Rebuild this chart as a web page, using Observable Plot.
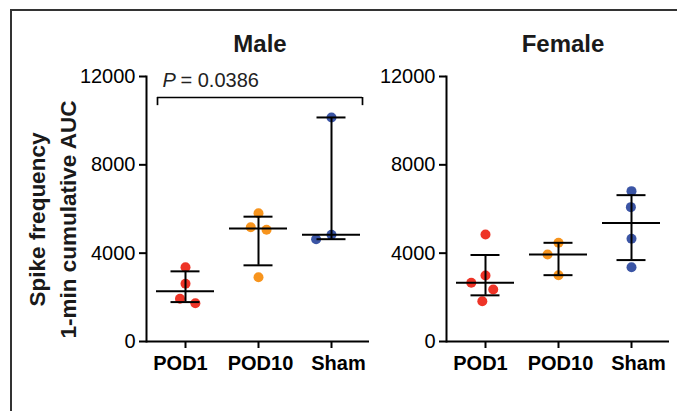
<!DOCTYPE html>
<html>
<head>
<meta charset="utf-8">
<script src="https://cdn.jsdelivr.net/npm/d3@7"></script>
<script src="https://cdn.jsdelivr.net/npm/@observablehq/plot@0.6"></script>
<style>
  body { margin: 0; background: #fff; }
  #chart { position: relative; width: 677px; height: 411px; overflow: hidden; background: #fff; }
  #border { position: absolute; left: 10px; top: 9px; width: 720px; height: 450px; border: 2px solid #333; box-sizing: border-box; }
  .layer { position: absolute; top: 0; }
</style>
</head>
<body>
<div id="chart"><div id="border"></div></div>
<script>
// ---- data ----
const groups = ["POD1", "POD10", "Sham"];
const colors = ["#ee3427", "#f7941d", "#3b55a5"];
const yTicks = [0, 4000, 8000, 12000];

const malePOD1  = [3365, 2613, 1933, 1735];
const malePOD10 = [5811, 5177, 5059, 2913];
const maleSham  = [10145, 4832, 4633];

const femalePOD1  = [4846, 2989, 2657, 2355, 1826];
const femalePOD10 = [4469, 3940, 3004];
const femaleSham  = [6808, 6084, 4650, 3366];

const comparisons = [{from: "POD1", to: "Sham", p: "0.0386", level: 11050, foot: 10680}];
const yLabel = "Spike frequency\n1-min cumulative AUC";

// ---- helpers ----
function quantile(values, p) { // (n+1)p method
  const s = values.slice().sort((a, b) => a - b), n = s.length;
  const h = (n + 1) * p;
  if (h <= 1) return s[0];
  if (h >= n) return s[n - 1];
  const lo = Math.floor(h);
  return s[lo - 1] + (h - lo) * (s[lo] - s[lo - 1]);
}
function rowsOf(sets) {
  return groups.flatMap((g, i) => sets[i].map(v => ({group: g, value: v})));
}
function summaryOf(sets) {
  return groups.map((g, i) => ({group: g, median: quantile(sets[i], 0.5), q1: quantile(sets[i], 0.25), q3: quantile(sets[i], 0.75)}));
}

const font = "'Liberation Sans', Arial, Helvetica, sans-serif";
const H = 411, MT = 76, MB = 70, MR = 8;
const labelShift = [-5, 2, 7]; // small horizontal nudges of the category labels, as in the original layout

function panel({title, sets, left, width, marginLeft, titleDx, withLabel, withBracket}) {
  const rows = rowsOf(sets);
  const summary = summaryOf(sets);
  const common = {width, height: H, marginLeft, marginRight: MR, marginTop: MT, marginBottom: MB,
    style: {background: "transparent", fontFamily: font, color: "black", overflow: "visible"}};

  const dots = Plot.plot({
    ...common,
    fx: {domain: groups, paddingInner: 0.1233, paddingOuter: 0.089, axis: null},
    y: {domain: [0, 12000], axis: null},
    color: {domain: groups, range: colors},
    marks: [
      Plot.dot(rows, Plot.dodgeX({anchor: "middle", padding: 6}, {fx: "group", y: "value", r: 5, fill: "group"}))
    ]
  });

  const marks = [
    Plot.ruleY([0], {strokeWidth: 2}),
    Plot.frame({anchor: "left", strokeWidth: 2}),
    Plot.axisY({ticks: yTicks, tickSize: 7, tickPadding: 4, fontSize: 20, tickFormat: d => String(d), strokeWidth: 2, label: null}),
    Plot.axisX({tickSize: 7, tickFormat: () => "", strokeWidth: 2, label: null}),
    ...groups.map((g, i) => Plot.axisX([g], {tickSize: 0, tickPadding: 14, dx: labelShift[i], fontSize: 20, fontWeight: "bold", label: null})),
    Plot.ruleX(summary, {x: "group", y1: "q1", y2: "q3", strokeWidth: 2}),
    Plot.tickY(summary, {x: "group", y: "median", strokeWidth: 2}),
    Plot.tickY(summary, {x: "group", y: "q1", strokeWidth: 2, insetLeft: 14.5, insetRight: 14.5}),
    Plot.tickY(summary, {x: "group", y: "q3", strokeWidth: 2, insetLeft: 14.5, insetRight: 14.5}),
    Plot.text([title], {frameAnchor: "top", dx: titleDx, dy: -31.7, fontSize: 24, fontWeight: "bold", lineAnchor: "middle", fill: "#1a1a1a"})
  ];
  if (withLabel) {
    marks.push(Plot.text([yLabel], {frameAnchor: "left", rotate: -90, dx: -96, dy: 10.5, fontSize: 22.5, fontWeight: "bold", lineHeight: 1.36, textAnchor: "middle", lineAnchor: "middle", fill: "#1a1a1a"}));
  }
  if (withBracket) {
    marks.push(
      Plot.ruleY(comparisons, {x1: "from", x2: "to", y: "level", strokeWidth: 1.7, insetLeft: 1, insetRight: -2}),
      Plot.ruleX(comparisons, {x: "from", y1: "foot", y2: "level", strokeWidth: 1.7, dx: -28}),
      Plot.ruleX(comparisons, {x: "to", y1: "foot", y2: "level", strokeWidth: 1.7, dx: 31}),
      Plot.text(comparisons, {x: "from", y: "level", text: () => "P", fontStyle: "italic", textAnchor: "start", dx: -23, dy: -17.1, fontSize: 20, fill: "#222"}),
      Plot.text(comparisons, {x: "from", y: "level", text: d => "= " + d.p, textAnchor: "start", dx: -5, dy: -17.1, fontSize: 20, fill: "#222"})
    );
  }

  const lines = Plot.plot({
    ...common,
    x: {domain: groups, type: "band", paddingInner: 0.2055, paddingOuter: 0.13, label: null},
    y: {domain: [0, 12000], label: null},
    marks
  });

  for (const svg of [dots, lines]) {
    svg.classList.add("layer");
    svg.style.left = left + "px";
    document.getElementById("chart").appendChild(svg);
  }
}

panel({title: "Male", sets: [malePOD1, malePOD10, maleSham], left: 0, width: 377, marginLeft: 146, titleDx: 2, withLabel: true, withBracket: true});
panel({title: "Female", sets: [femalePOD1, femalePOD10, femaleSham], left: 377, width: 300, marginLeft: 69, titleDx: 5, withLabel: false, withBracket: false});
</script>
</body>
</html>
